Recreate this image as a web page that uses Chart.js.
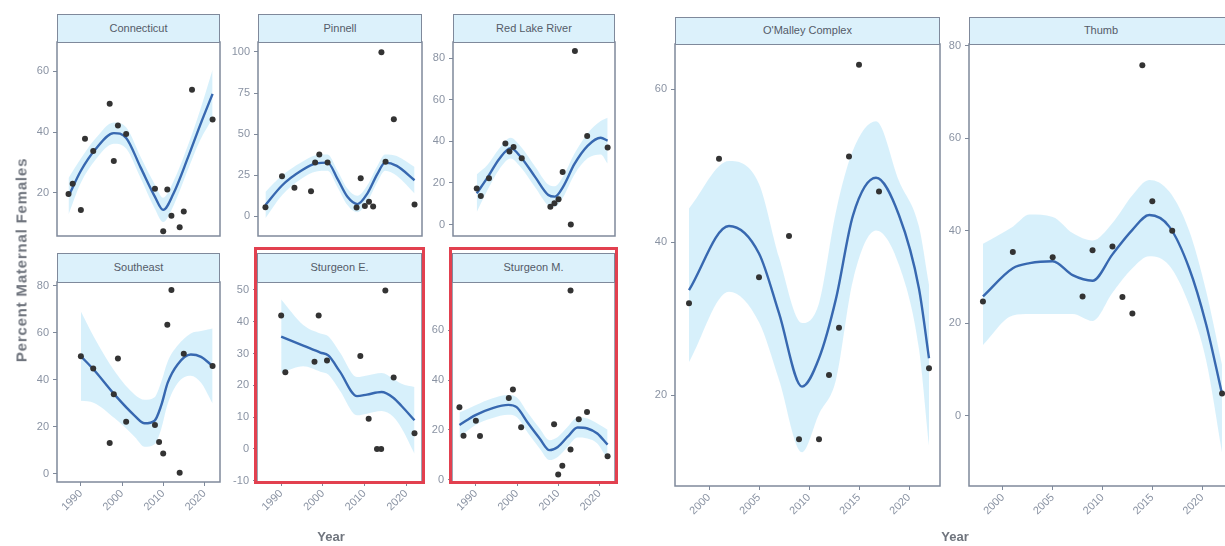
<!DOCTYPE html>
<html>
<head>
<meta charset="utf-8">
<script src="https://cdn.jsdelivr.net/npm/chart.js@4.4.1/dist/chart.umd.min.js"></script>
<style>
  html, body { margin: 0; padding: 0; background: #fff; }
  body { width: 1225px; height: 546px; overflow: hidden; position: relative;
         font-family: "Liberation Sans", Arial, sans-serif; }
  canvas { position: absolute; }
  .strip { position: absolute; box-sizing: border-box; background: #dcf1fb;
           border: 1.4px solid #7f899b; color: #545b68; font-size: 11px;
           text-align: center; white-space: nowrap; }
  .hl { position: absolute; box-sizing: border-box; border: 3px solid #e2404f; }
  .title { position: absolute; font-weight: bold; color: #6f747d; white-space: nowrap; }
</style>
</head>
<body>
<script>
// values
const leftYearTicks = [1990, 2000, 2010, 2020];
const rightYearTicks = [2000, 2005, 2010, 2015, 2020];

// Connecticut
const connYears = [1987, 1988, 1990, 1991, 1993, 1997, 1998, 1999, 2001, 2008, 2010, 2011, 2012, 2014, 2015, 2017, 2022];
const connPct = [19.6, 23, 14.4, 37.8, 33.8, 49.4, 30.5, 42.2, 39.4, 21.4, 7.4, 21.1, 12.5, 8.7, 13.9, 54, 44.2];
const connFitYears = [1987, 1990, 1993.5, 1998, 2001, 2004.5, 2008, 2010, 2012.5, 2016, 2019, 2022];
const connFit = [18.9, 27.3, 34.3, 39.7, 38.1, 28.4, 18.7, 14.4, 19.8, 31.6, 42.4, 52.6];
const connLow = [12.9, 23.3, 30.8, 36.2, 34.6, 24.9, 14.7, 10.4, 15.8, 27.6, 37.4, 44.6];
const connHigh = [24.9, 31.3, 37.8, 43.2, 41.6, 31.9, 22.7, 18.4, 23.8, 35.6, 47.4, 60.6];
const connTicks = [20, 40, 60];

// Pinnell
const pinYears = [1986, 1990, 1993, 1997, 1998, 1999, 2001, 2008, 2009, 2010, 2011, 2012, 2014, 2015, 2017, 2022];
const pinPct = [5.5, 24.4, 17.4, 15.3, 32.7, 37.7, 32.7, 5.4, 23.2, 6.3, 8.9, 6.0, 99.8, 33.3, 59.1, 7.3];
const pinFitYears = [1986, 1990, 1994.6, 1998.3, 2001, 2003.4, 2005.8, 2008.2, 2010.6, 2013, 2014.9, 2017.7, 2022];
const pinFit = [6.9, 18.8, 27.7, 32.3, 32.7, 22.8, 11.9, 7.5, 13.9, 25.7, 32.7, 30.7, 22];
const pinLow = [-1.1, 12.8, 22.7, 27.3, 27.7, 17.8, 6.9, 2.5, 8.9, 20.7, 27.7, 24.7, 14];
const pinHigh = [14.9, 24.8, 32.7, 37.3, 37.7, 27.8, 16.9, 12.5, 18.9, 30.7, 37.7, 36.7, 30];
const pinTicks = [0, 25, 50, 75, 100];

// Red Lake River
const redYears = [1990, 1991, 1993, 1997, 1998, 1999, 2001, 2008, 2009, 2010, 2011, 2013, 2014, 2017, 2022];
const redPct = [17.3, 13.7, 22.3, 38.9, 35.1, 37.3, 31.8, 8.6, 10.2, 12.1, 25.2, 0, 83.4, 42.5, 37.0];
const redFitYears = [1990, 1992.7, 1995.5, 1998.3, 2000.7, 2004.3, 2007.5, 2009.1, 2011.1, 2013.9, 2017.1, 2020.3, 2022];
const redFit = [15.0, 22.8, 31.5, 36.7, 32.6, 22.8, 14.2, 13.4, 18.1, 29.1, 37.8, 41.7, 40.3];
const redLow = [6, 16.8, 26.5, 31.7, 27.6, 17.8, 9.2, 8.4, 13.1, 24.1, 31.8, 33.7, 29.3];
const redHigh = [24, 28.8, 36.5, 41.7, 37.6, 27.8, 19.2, 18.4, 23.1, 34.1, 43.8, 49.7, 51.3];
const redTicks = [0, 20, 40, 60, 80];

// Southeast
const seYears = [1990, 1993, 1997, 1998, 1999, 2001, 2008, 2009, 2010, 2011, 2012, 2014, 2015, 2022];
const sePct = [50.0, 44.7, 13.0, 33.8, 49.0, 22.1, 20.7, 13.4, 8.5, 63.4, 78.2, 0.3, 51.0, 45.8];
const seFitYears = [1990, 1993.2, 1998.3, 2003.1, 2005.5, 2007.9, 2009.5, 2011.1, 2013.5, 2016.7, 2019.2, 2022];
const seFit = [50.0, 44.1, 33.4, 24.6, 21.4, 22.5, 28.9, 38.7, 46.5, 50.7, 49.7, 45.8];
const seLow = [31, 30.1, 23.4, 15.6, 11.4, 12.5, 18.9, 29.7, 38.5, 41.7, 38.7, 29.8];
const seHigh = [69, 58.1, 43.4, 33.6, 31.4, 32.5, 38.9, 47.7, 54.5, 59.7, 60.7, 61.8];
const seTicks = [0, 20, 40, 60, 80];

// Sturgeon E.
const sturEYears = [1990, 1991, 1998, 1999, 2001, 2009, 2011, 2013, 2014, 2015, 2017, 2022];
const sturEPct = [42.0, 24.1, 27.4, 42.0, 27.8, 29.2, 9.5, 0, 0, 49.8, 22.5, 4.9];
const sturEFitYears = [1990, 1995.3, 1999.4, 2001.3, 2004.1, 2008.2, 2010.6, 2014.1, 2016.9, 2018.9, 2022];
const sturEFit = [35.3, 32.5, 30.3, 29.4, 24.3, 16.6, 17.1, 17.9, 16.1, 13.5, 9];
const sturELow = [24, 26, 24.3, 23.4, 18.3, 10.6, 11.1, 11.9, 10.1, 6.5, -1.5];
const sturEHigh = [47, 39, 36.3, 35.4, 30.3, 22.6, 23.1, 23.9, 22.1, 20.5, 19.5];
const sturETicks = [-10, 0, 10, 20, 30, 40, 50];

// Sturgeon M.
const sturMYears = [1986, 1987, 1990, 1991, 1998, 1999, 2001, 2009, 2010, 2011, 2013, 2013, 2015, 2017, 2022];
const sturMPct = [29.0, 17.6, 23.6, 17.5, 32.8, 36.2, 21.0, 22.2, 2.0, 5.5, 12.1, 76.0, 24.2, 27.1, 9.4];
const sturMFitYears = [1986, 1989.9, 1993.9, 1997.9, 1999.9, 2002.7, 2005.5, 2007.9, 2009.9, 2012.3, 2014.7, 2017.1, 2019.5, 2022];
const sturMFit = [21.9, 25.9, 28.6, 30.0, 29.1, 22.6, 16.5, 11.8, 13.1, 17.2, 20.9, 20.5, 18.5, 14];
const sturMLow = [16.9, 21.9, 24.6, 26, 25.1, 18.6, 12.5, 7.8, 9.1, 13.2, 16.9, 16.5, 14.5, 8];
const sturMHigh = [26.9, 29.9, 32.6, 34, 33.1, 26.6, 20.5, 15.8, 17.1, 21.2, 24.9, 24.5, 22.5, 20];
const sturMTicks = [0, 20, 40, 60];

// O'Malley Complex
const omYears = [1998, 2001, 2005, 2008, 2009, 2011, 2012, 2013, 2014, 2015, 2017, 2022];
const omPct = [32.0, 50.9, 35.4, 40.8, 14.2, 14.2, 22.6, 28.8, 51.2, 63.2, 46.6, 23.5];
const omFitYears = [1998, 2002, 2005, 2007, 2009.3, 2011, 2012.7, 2014.4, 2016.7, 2019, 2021, 2022];
const omFit = [33.7, 42.1, 38.5, 30.7, 21.1, 24.8, 32.6, 43.5, 48.4, 43.5, 33.9, 24.8];
const omLow = [24.3, 33.5, 29.5, 22, 12.5, 17.5, 22, 35, 41.5, 37, 26, 13.4];
const omHigh = [44.4, 50.6, 47.6, 38, 29.4, 32, 44, 52, 55.8, 48, 42, 34.4];
const omTicks = [20, 40, 60];

// Thumb
const thumbYears = [1998, 2001, 2005, 2008, 2009, 2011, 2012, 2013, 2014, 2015, 2017, 2022];
const thumbPct = [24.7, 35.4, 34.3, 25.8, 35.8, 36.6, 25.7, 22.1, 75.8, 46.4, 40.0, 4.8];
const thumbFitYears = [1998, 2001, 2002.7, 2005, 2007, 2009, 2011, 2013, 2014.7, 2016.7, 2018.7, 2020.4, 2022];
const thumbFit = [25.8, 31.9, 33, 33.4, 30.4, 29.2, 34.9, 40.2, 43.4, 40.9, 31.9, 19.8, 4.7];
const thumbLow = [15.3, 21.7, 22, 22, 22, 20.5, 26.6, 31.9, 34.5, 32.5, 24, 12, -8];
const thumbHigh = [37.2, 40.9, 43.5, 43, 39.5, 37.9, 41.7, 47.7, 51, 48.5, 40, 27, 11];
const thumbTicks = [0, 20, 40, 60, 80];

// panel layout: plot box [left, top, right, bottom] in page px, strip above it
const panels = [
  { name: 'Connecticut', x: connYears, y: connPct, fx: connFitYears, fy: connFit, lo: connLow, hi: connHigh,
    yTicks: connTicks, yMin: 5.8, yMax: 69.7, box: [57, 42, 220, 240], strip: 14, group: 'left', xLabels: false },
  { name: 'Pinnell', x: pinYears, y: pinPct, fx: pinFitYears, fy: pinFit, lo: pinLow, hi: pinHigh,
    yTicks: pinTicks, yMin: -11.9, yMax: 106, box: [258, 42, 422, 240], strip: 14, group: 'left', xLabels: false },
  { name: 'Red Lake River', x: redYears, y: redPct, fx: redFitYears, fy: redFit, lo: redLow, hi: redHigh,
    yTicks: redTicks, yMin: -5.5, yMax: 87.7, box: [453, 42, 615, 240], strip: 14, group: 'left', xLabels: false },
  { name: 'Southeast', x: seYears, y: sePct, fx: seFitYears, fy: seFit, lo: seLow, hi: seHigh,
    yTicks: seTicks, yMin: -3.6, yMax: 81.6, box: [57, 282, 220, 482], strip: 253, group: 'left', xLabels: true },
  { name: 'Sturgeon E.', x: sturEYears, y: sturEPct, fx: sturEFitYears, fy: sturEFit, lo: sturELow, hi: sturEHigh,
    yTicks: sturETicks, yMin: -10.4, yMax: 52.5, box: [257, 282, 422, 482], strip: 253, group: 'left', xLabels: true, mark: true },
  { name: 'Sturgeon M.', x: sturMYears, y: sturMPct, fx: sturMFitYears, fy: sturMFit, lo: sturMLow, hi: sturMHigh,
    yTicks: sturMTicks, yMin: -1, yMax: 79.4, box: [452, 282, 615, 482], strip: 253, group: 'left', xLabels: true, mark: true },
  { name: "O'Malley Complex", x: omYears, y: omPct, fx: omFitYears, fy: omFit, lo: omLow, hi: omHigh,
    yTicks: omTicks, yMin: 8.1, yMax: 65.9, box: [675, 44, 940, 486], strip: 17, group: 'right', xLabels: true },
  { name: 'Thumb', x: thumbYears, y: thumbPct, fx: thumbFitYears, fy: thumbFit, lo: thumbLow, hi: thumbHigh,
    yTicks: thumbTicks, yMin: -15.2, yMax: 80.4, box: [969, 44, 1233, 486], strip: 17, group: 'right', xLabels: true }
];

const greyText = '#8a93a3';
const frameColor = '#7f899b';

const framePlugin = {
  id: 'frame',
  afterDraw(chart) {
    const a = chart.chartArea, ctx = chart.ctx;
    ctx.save();
    ctx.strokeStyle = frameColor;
    ctx.lineWidth = 1.5;
    ctx.strokeRect(a.left, a.top, a.right - a.left, a.bottom - a.top);
    ctx.restore();
  }
};

function toXY(xs, ys) {
  return xs.map((x, i) => ({ x: x, y: ys[i] }));
}

function fixedTicks(values) {
  return function (scale) {
    scale.ticks = values.map(v => ({ value: v }));
  };
}

panels.forEach(function (p) {
  const [L, T, R, B] = p.box;
  const padL = 44, padT = 8, padR = 8;
  const padB = p.xLabels ? 36 : 4;

  const canvas = document.createElement('canvas');
  canvas.width = (R - L) + padL + padR;
  canvas.height = (B - T) + padT + padB;
  canvas.style.left = (L - padL) + 'px';
  canvas.style.top = (T - padT) + 'px';
  document.body.appendChild(canvas);

  const strip = document.createElement('div');
  strip.className = 'strip';
  strip.style.left = L + 'px';
  strip.style.top = p.strip + 'px';
  strip.style.width = (R - L) + 'px';
  strip.style.height = (T - p.strip + 1) + 'px';
  strip.style.lineHeight = (T - p.strip - 2) + 'px';
  strip.textContent = p.name;
  document.body.appendChild(strip);

  const left = p.group === 'left';
  const xTicks = left ? leftYearTicks : rightYearTicks;

  new Chart(canvas, {
    type: 'line',
    data: {
      datasets: [
        {
          data: toXY(p.fx, p.hi),
          borderWidth: 0,
          pointRadius: 0,
          fill: '+1',
          backgroundColor: 'rgba(150, 215, 245, 0.38)',
          cubicInterpolationMode: 'monotone',
          order: 3
        },
        {
          data: toXY(p.fx, p.lo),
          borderWidth: 0,
          pointRadius: 0,
          fill: false,
          cubicInterpolationMode: 'monotone',
          order: 3
        },
        {
          data: toXY(p.fx, p.fy),
          borderColor: '#3768b0',
          borderWidth: 2.4,
          pointRadius: 0,
          fill: false,
          cubicInterpolationMode: 'monotone',
          order: 2
        },
        {
          data: toXY(p.x, p.y),
          showLine: false,
          pointRadius: 3,
          pointBackgroundColor: '#333333',
          pointBorderWidth: 0,
          order: 1
        }
      ]
    },
    options: {
      responsive: false,
      animation: false,
      events: [],
      layout: { padding: { top: padT, right: padR, bottom: p.xLabels ? 0 : padB, left: 0 } },
      plugins: { legend: { display: false }, tooltip: { enabled: false } },
      scales: {
        x: {
          type: 'linear',
          display: p.xLabels,
          min: left ? 1984.2 : 1996.6,
          max: left ? 2023.8 : 2023.1,
          afterBuildTicks: fixedTicks(xTicks),
          afterFit: function (scale) {
            scale.height = padB;
            scale.paddingLeft = 0;
            scale.paddingRight = 0;
          },
          border: { display: false },
          grid: { drawOnChartArea: false, drawTicks: true, tickLength: 4, color: frameColor },
          ticks: {
            minRotation: 45,
            maxRotation: 45,
            padding: 1,
            color: greyText,
            font: { family: 'Liberation Sans', size: 11 },
            callback: v => String(v)
          }
        },
        y: {
          min: p.yMin,
          max: p.yMax,
          afterBuildTicks: fixedTicks(p.yTicks),
          afterFit: function (scale) {
            scale.width = padL;
            scale.paddingTop = 0;
            scale.paddingBottom = 0;
          },
          border: { display: false },
          grid: { drawOnChartArea: false, drawTicks: true, tickLength: 4, color: frameColor },
          ticks: {
            padding: 4,
            color: greyText,
            font: { family: 'Liberation Sans', size: 11 },
            callback: v => String(v)
          }
        }
      }
    },
    plugins: [framePlugin]
  });

  if (p.mark) {
    const hl = document.createElement('div');
    hl.className = 'hl';
    hl.style.left = (L - 3) + 'px';
    hl.style.top = (p.strip - 6) + 'px';
    hl.style.width = (R - L + 6) + 'px';
    hl.style.height = (B - p.strip + 8) + 'px';
    document.body.appendChild(hl);
  }
});

// shared axis titles
function addTitle(text, x, y, size, rotate, spacing) {
  const d = document.createElement('div');
  d.className = 'title';
  d.textContent = text;
  d.style.fontSize = size + 'px';
  d.style.letterSpacing = spacing + 'px';
  d.style.left = x + 'px';
  d.style.top = y + 'px';
  d.style.transform = 'translate(-50%, -50%)' + (rotate ? ' rotate(-90deg)' : '');
  document.body.appendChild(d);
}
addTitle('Year', 331, 536, 13, false, 0);
addTitle('Year', 955, 536, 13, false, 0);
addTitle('Percent Maternal Females', 21, 260, 15, true, 0.8);
</script>
</body>
</html>
